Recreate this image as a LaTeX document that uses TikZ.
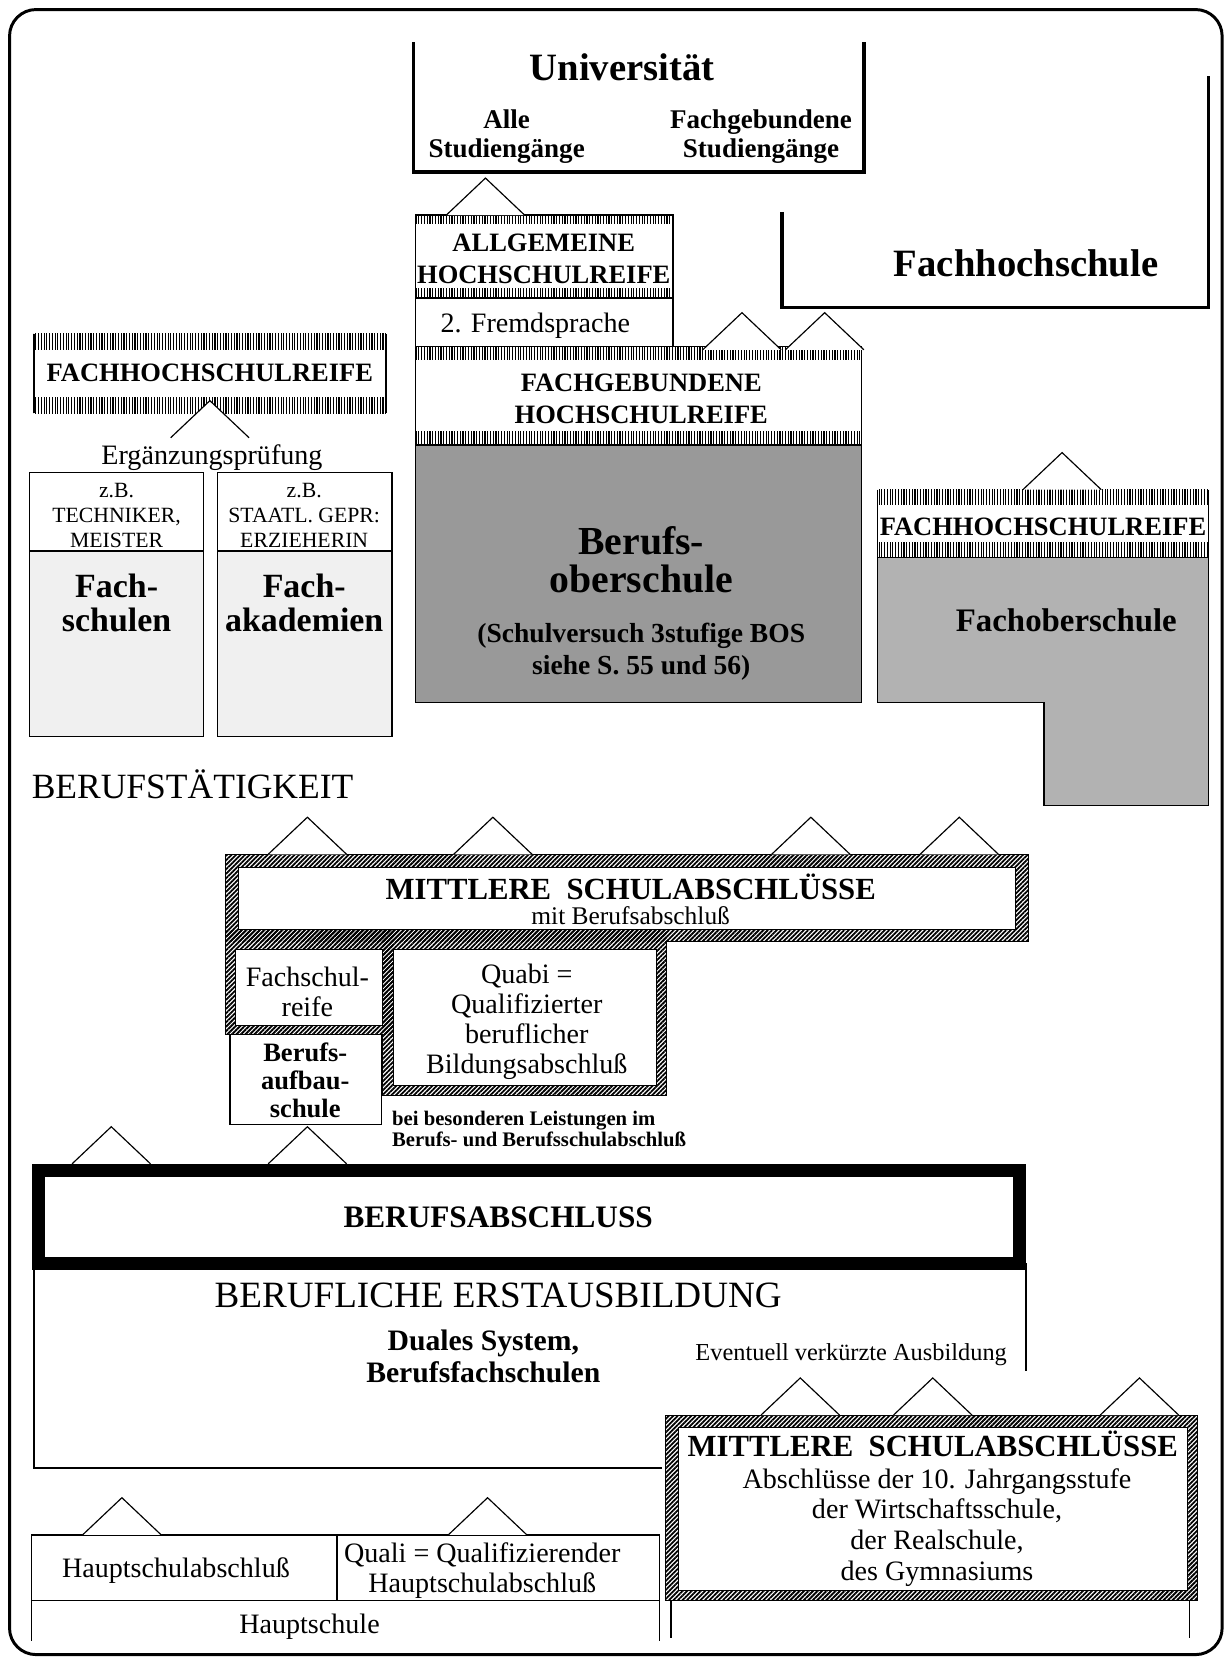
\documentclass[tikz,border=0pt]{standalone}
\usepackage{fontspec}
\setmainfont{Liberation Serif}
\usetikzlibrary{positioning,calc,patterns.meta}

\begin{document}
\begin{tikzpicture}[
    x=1pt, y=-1pt,
    every node/.style={inner sep=0pt, outer sep=0pt, align=center},
    area/.style={anchor=north west, minimum width=#1},
    heavy/.style={line width=3.5pt},
    thinbox/.style={draw, line width=1.3pt},
    innerbox/.style={draw, fill=white, line width=0.8pt},
    reifebar/.style={pattern={Lines[angle=90, distance=2.6pt, line width=1.1pt]}},
    mframe/.style={pattern={Lines[angle=45, distance=3pt, line width=1.7pt]}},
    delta/.pic={\draw[fill=white, line width=1.1pt] (-37,0) -- (0,-35) -- (37,0);},
    ttl/.style={font=\fontsize{36.5}{40}\selectfont\bfseries},
    subl/.style={font=\fontsize{25.5}{28}\selectfont\bfseries},
    caps/.style={font=\fontsize{25}{30}\selectfont\bfseries},
    txt/.style={font=\fontsize{26.5}{28.5}\selectfont},
    zb/.style={font=\fontsize{20.5}{23.5}\selectfont},
    bigb/.style={font=\fontsize{32}{32}\selectfont\bfseries},
    notes/.style={font=\fontsize{19.5}{19.5}\selectfont\bfseries, align=left},
]

\useasboundingbox (0,0) rectangle (1161,1568);

% outer frame
\draw[line width=2.8pt, rounded corners=25pt] (9,9) rectangle (1153,1561);

% Universitaet
\node[area=425, minimum height=122] (uni) at (390,40) {};
\draw[heavy] (uni.north west) |- (uni.south east) -- (uni.north east);
\node[ttl] (unititle) at (587,63) {Universität};
\node[subl] (alle) at (478,129) {Alle\\Studiengänge};
\node[subl] (fachgeb) at (718,129) {Fachgebundene\\Studiengänge};

% Fachhochschule
\node[area=402, minimum height=218] (fh) at (738,72) {};
\draw[heavy] ($(fh.south west)+(0,-90)$) |- (fh.south east) -- (fh.north east);
\node[ttl] (fhtitle) at (968,248) {Fachhochschule};

% Allgemeine Hochschulreife
\node[thinbox, area=243, minimum height=78] (ahr) at (392,203) {};
\fill[reifebar] (ahr.north west) rectangle ++(243,8);
\fill[reifebar] ($(ahr.south west)+(0,-9)$) rectangle (ahr.south east);
\node[caps] (ahrtext) at (513,244) {ALLGEMEINE\\HOCHSCHULREIFE};
\node[thinbox, area=243, minimum height=46] (fremd) at (392,281) {};
\node[txt] (fremdtext) at (505,307) {2. Fremdsprache};

% Fachgebundene Hochschulreife
\node[thinbox, area=421, minimum height=93] (fgh) at (392,327) {};
\fill[reifebar] (fgh.north west) rectangle ++(421,12);
\fill[reifebar] ($(fgh.south west)+(0,-13)$) rectangle (fgh.south east);
\node[caps] (fghtext) at (605,376) {FACHGEBUNDENE\\HOCHSCHULREIFE};

% Berufsoberschule
\node[thinbox, fill=black!40, area=421, minimum height=243] (bos) at (392,420) {};
\node[font=\fontsize{37.5}{36}\selectfont\bfseries] (bostitle) at (605,528) {Berufs-\\oberschule};
\node[font=\fontsize{26}{30}\selectfont\bfseries] (bosnote) at (605,615) {(Schulversuch 3stufige BOS\\siehe S. 55 und 56)};

\pic at (458,203) {delta};
\pic at (700,330) {delta};
\pic at (778,330) {delta};

% Fachhochschulreife links
\node[area=332, minimum height=75] (fhrl) at (32,315) {};
\draw[line width=1.3pt] (fhrl.north west) -- (fhrl.south west) (fhrl.north east) -- (fhrl.south east);
\fill[reifebar] (fhrl.north west) rectangle ++(332,15);
\fill[reifebar] ($(fhrl.south west)+(0,-15)$) rectangle (fhrl.south east);
\node[caps] (fhrltext) at (198,352) {FACHHOCHSCHULREIFE};
\pic at (198,413) {delta};
\node[txt] (erg) at (200,432) {Ergänzungsprüfung};

% Fachschulen, Fachakademien
\node[thinbox, fill=black!6, area=164, minimum height=249] (fs) at (28,446) {};
\draw[fill=white, line width=1.3pt] (fs.north west) rectangle ($(fs.north east)+(0,74)$);
\node[zb] (fszb) at (110,486) {z.B.\\TECHNIKER,\\MEISTER};
\node[bigb] (fstitle) at (110,569) {Fach-\\schulen};
\node[thinbox, fill=black!6, area=165, minimum height=249] (fa) at (205,446) {};
\draw[fill=white, line width=1.3pt] (fa.north west) rectangle ($(fa.north east)+(0,74)$);
\node[zb] (fazb) at (287,486) {z.B.\\STAATL. GEPR:\\ERZIEHERIN};
\node[bigb] (fatitle) at (287,569) {Fach-\\akademien};

\node[font=\fontsize{33.5}{36}\selectfont, anchor=west] (beruf) at (30,740) {BERUFSTÄTIGKEIT};

% Fachoberschule
\draw[fill=black!30, line width=1.3pt] (828,526) -- (1140,526) -- (1140,760) -- (985,760) -- (985,663) -- (828,663) -- cycle;
\node[area=312, minimum height=64] (fhrr) at (828,462) {};
\draw[line width=1.3pt] (fhrr.north west) -- (fhrr.south west) (fhrr.north east) -- (fhrr.south east);
\fill[reifebar] (fhrr.north west) rectangle ++(312,14);
\fill[reifebar] ($(fhrr.south west)+(0,-14)$) rectangle (fhrr.south east);
\node[caps] (fhrrtext) at (984,497) {FACHHOCHSCHULREIFE};
\node[font=\fontsize{31}{34}\selectfont\bfseries] (fos) at (1006,585) {Fachoberschule};
\pic at (1002,462) {delta};

% Mittlere Schulabschluesse mit Berufsabschluss
\fill[mframe] (213,806) rectangle (970,888);
\fill[mframe] (213,878) rectangle (371,976);
\fill[mframe] (361,878) rectangle (629,1033);
\draw[line width=0.8pt] (213,806) -- (970,806) -- (970,888) -- (629,888) -- (629,1033) -- (361,1033) -- (361,976) -- (213,976) -- cycle;
\node[innerbox, area=733, minimum height=59] (mba) at (225,818) {};
\node[font=\fontsize{29}{30}\selectfont\bfseries] (mbatitle) at (595,837) {MITTLERE\ \ SCHULABSCHLÜSSE};
\node[font=\fontsize{24}{26}\selectfont] (mbasub) at (595,864) {mit Berufsabschluß};
\node[innerbox, area=139, minimum height=71] (fsr) at (222,896) {};
\node[font=\fontsize{26.5}{28}\selectfont] (fsrtext) at (290,936) {Fachschul-\\reife};
\node[innerbox, area=248, minimum height=128] (quabi) at (371,896) {};
\node[font=\fontsize{26.5}{28.5}\selectfont] (quabitext) at (497,964) {Quabi =\\Qualifizierter\\beruflicher\\Bildungsabschluß};
\node[thinbox, area=143, minimum height=85] (bas) at (217,976) {};
\node[font=\fontsize{25}{26.5}\selectfont\bfseries] (bastext) at (288,1019) {Berufs-\\aufbau-\\schule};
\node[notes, anchor=west] (bei) at (370,1065) {bei besonderen Leistungen im\\Berufs- und Berufsschulabschluß};

\pic at (290,806) {delta};
\pic at (465,806) {delta};
\pic at (765,806) {delta};
\pic at (905,806) {delta};

% Berufsabschluss, berufliche Erstausbildung
\node[draw, line width=12pt, area=926, minimum height=88] (babs) at (36,1104) {};
\node[font=\fontsize{29.5}{30}\selectfont\bfseries] (babstext) at (470,1148) {BERUFSABSCHLUSS};
\draw[line width=1.5pt] (32,1192) |- (625,1385);
\draw[line width=1.5pt] (968,1192) -- (968,1293);
\node[font=\fontsize{35}{36}\selectfont] (erst) at (470,1222) {BERUFLICHE ERSTAUSBILDUNG};
\node[font=\fontsize{28}{30}\selectfont\bfseries] (dual) at (456,1280) {Duales System,\\Berufsfachschulen};
\node[font=\fontsize{23}{24}\selectfont] (event) at (803,1278) {Eventuell verkürzte Ausbildung};

\pic at (105,1098) {delta};
\pic at (290,1098) {delta};

% Mittlere Schulabschluesse
\fill[mframe] (628,1335) rectangle (1130,1510);
\draw[line width=0.8pt] (628,1335) rectangle (1130,1510);
\node[innerbox, area=480, minimum height=153] (msa) at (640,1347) {};
\node[font=\fontsize{29}{30}\selectfont\bfseries] (msatitle) at (880,1362) {MITTLERE\ \ SCHULABSCHLÜSSE};
\node[font=\fontsize{26.5}{29}\selectfont] (msasub) at (884,1441) {Abschlüsse der 10. Jahrgangsstufe\\der Wirtschaftsschule,\\der Realschule,\\des Gymnasiums};
\draw[line width=1.3pt] (633,1510) -- (633,1545) (1122,1510) -- (1122,1545);
\pic at (755,1335) {delta};
\pic at (880,1335) {delta};
\pic at (1075,1335) {delta};

% Hauptschule
\node[thinbox, area=288, minimum height=62] (hsa) at (30,1448) {};
\node[txt] (hsatext) at (166,1482) {Hauptschulabschluß};
\node[thinbox, area=304, minimum height=62] (quali) at (318,1448) {};
\node[txt] (qualitext) at (455,1482) {Quali = Qualifizierender\\Hauptschulabschluß};
\draw[line width=1.3pt] (hsa.south west) -- ++(0,38) (quali.south east) -- ++(0,38);
\node[txt] (hs) at (292,1535) {Hauptschule};
\pic at (115,1448) {delta};
\pic at (460,1448) {delta};

\end{tikzpicture}
\end{document}
